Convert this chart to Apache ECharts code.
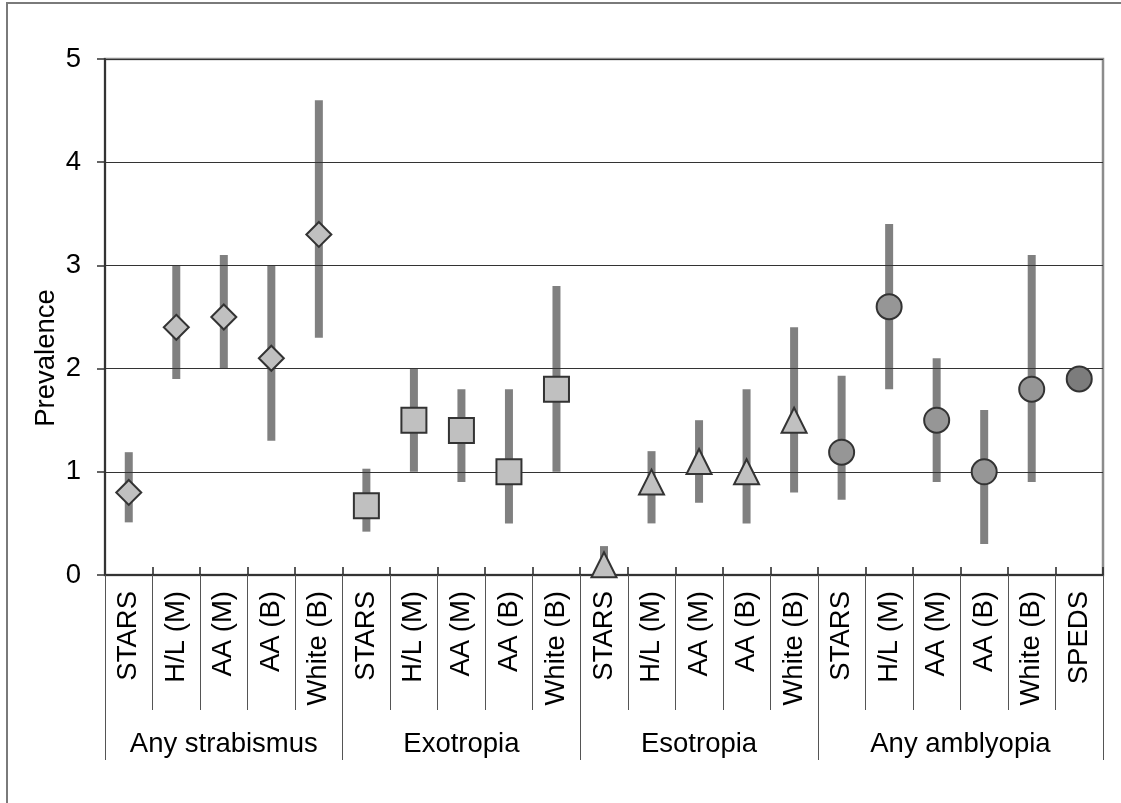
<!DOCTYPE html>
<html>
<head>
<meta charset="utf-8">
<title>Prevalence by subgroup</title>
<script src="https://cdn.jsdelivr.net/npm/echarts@6/dist/echarts.min.js"></script>
<style>
  html, body { margin: 0; padding: 0; background: #fff; }
  #chart { width: 1121px; height: 803px; }
</style>
</head>
<body>
<div id="chart"></div>
<script>
// Category labels along the x axis (21 study subgroups)
const categories = [
  'STARS', 'H/L (M)', 'AA (M)', 'AA (B)', 'White (B)',
  'STARS', 'H/L (M)', 'AA (M)', 'AA (B)', 'White (B)',
  'STARS', 'H/L (M)', 'AA (M)', 'AA (B)', 'White (B)',
  'STARS', 'H/L (M)', 'AA (M)', 'AA (B)', 'White (B)', 'SPEDS'
];
const groupNames = ['Any strabismus', 'Exotropia', 'Esotropia', 'Any amblyopia'];
const groupSizes = [5, 5, 5, 6];
const yTicks = [0, 1, 2, 3, 4, 5];

// Prevalence (%) with lower / upper confidence limits
const strabismusPrev = [0.8, 2.4, 2.5, 2.1, 3.3];
const strabismusLow  = [0.51, 1.9, 2.0, 1.3, 2.3];
const strabismusHigh = [1.19, 3.0, 3.1, 3.0, 4.6];

const exotropiaPrev = [0.67, 1.5, 1.4, 1.0, 1.8];
const exotropiaLow  = [0.42, 1.0, 0.9, 0.5, 1.0];
const exotropiaHigh = [1.03, 2.0, 1.8, 1.8, 2.8];

const esotropiaPrev = [0.1, 0.9, 1.1, 1.0, 1.5];
const esotropiaLow  = [0.0, 0.5, 0.7, 0.5, 0.8];
const esotropiaHigh = [0.28, 1.2, 1.5, 1.8, 2.4];

const amblyopiaPrev = [1.19, 2.6, 1.5, 1.0, 1.8, 1.9];
const amblyopiaLow  = [0.73, 1.8, 0.9, 0.3, 0.9, null];
const amblyopiaHigh = [1.93, 3.4, 2.1, 1.6, 3.1, null];

const FONT = '"Liberation Sans", Arial, sans-serif';
const FS = 27.5;

const groups = [
  { prev: strabismusPrev, low: strabismusLow, high: strabismusHigh, symbol: 'diamond', fill: '#c0c0c0' },
  { prev: exotropiaPrev, low: exotropiaLow, high: exotropiaHigh, symbol: 'rect', fill: '#c0c0c0' },
  { prev: esotropiaPrev, low: esotropiaLow, high: esotropiaHigh, symbol: 'triangle', fill: '#c0c0c0' },
  { prev: amblyopiaPrev, low: amblyopiaLow, high: amblyopiaHigh, symbol: 'circle', fill: '#969696' }
];

// Starting category index of each group and the midpoint used for group labels
const groupStarts = [];
const groupMids = [];
let acc = 0;
groupSizes.forEach(function (n) {
  groupStarts.push(acc);
  groupMids.push(acc + n / 2);
  acc += n;
});

// Error bar data: [categoryIndex, low, high]
const ciData = [];
groups.forEach(function (g, gi) {
  g.low.forEach(function (lo, k) {
    if (lo != null && g.high[k] != null) ciData.push([groupStarts[gi] + k, lo, g.high[k]]);
  });
});

const pointSeries = groups.map(function (g, gi) {
  return {
    type: 'scatter',
    xAxisIndex: 0,
    yAxisIndex: 0,
    symbol: g.symbol,
    symbolSize: 25,
    z: 5,
    itemStyle: { color: g.fill, borderColor: '#333', borderWidth: 2, opacity: 1 },
    data: g.prev.map(function (v, k) {
      const idx = groupStarts[gi] + k;
      const item = { value: [idx, v] };
      if (categories[idx] === 'SPEDS') item.itemStyle = { color: '#7c7c7c' };
      return item;
    }),
    emphasis: { disabled: true }
  };
});

const chart = echarts.init(document.getElementById('chart'), null, { renderer: 'canvas' });

chart.setOption({
  animation: false,
  backgroundColor: '#fff',
  textStyle: { fontFamily: FONT },
  graphic: [{
    type: 'rect',
    shape: { x: 7, y: 3, width: 1300, height: 1000 },
    style: { fill: 'none', stroke: '#7a7a7a', lineWidth: 2 },
    silent: true,
    z: -10
  }],
  grid: {
    left: 105, right: 18, top: 59, bottom: 228,
    show: true,
    borderColor: '#8c8c8c',
    borderWidth: 2.5,
    backgroundColor: 'transparent'
  },
  xAxis: [
    {
      // subgroup labels and the thin separators between them
      type: 'category',
      data: categories,
      boundaryGap: true,
      position: 'bottom',
      axisLine: { show: true, lineStyle: { color: '#333', width: 2 } },
      axisTick: { show: true, interval: 0, length: 135, lineStyle: { color: '#555', width: 1 } },
      axisLabel: {
        interval: 0, rotate: 90, margin: 16,
        fontSize: FS, color: '#000', fontFamily: FONT
      },
      splitLine: { show: false },
      z: 3
    },
    {
      // longer separators between the four diagnosis groups
      type: 'category',
      data: categories,
      boundaryGap: true,
      position: 'bottom',
      axisLine: { show: false },
      axisTick: {
        show: true,
        interval: function (index) { return groupStarts.indexOf(index) >= 0; },
        length: 185,
        lineStyle: { color: '#555', width: 1 }
      },
      axisLabel: { show: false },
      splitLine: { show: false }
    },
    {
      // short tick marks crossing above the axis line
      type: 'category',
      data: categories,
      boundaryGap: true,
      position: 'bottom',
      axisLine: { show: false },
      axisTick: { show: true, inside: true, interval: 0, length: 8, lineStyle: { color: '#222', width: 1.5 } },
      axisLabel: { show: false },
      splitLine: { show: false }
    },
    {
      // group names centred under each group
      type: 'value',
      min: 0,
      max: categories.length,
      interval: 0.5,
      position: 'bottom',
      axisLine: { show: false },
      axisTick: { show: false },
      splitLine: { show: false },
      axisLabel: {
        margin: 155,
        fontSize: FS, color: '#000', fontFamily: FONT,
        formatter: function (v) {
          const i = groupMids.indexOf(v);
          return i >= 0 ? groupNames[i] : '';
        }
      }
    }
  ],
  yAxis: {
    type: 'value',
    min: yTicks[0],
    max: yTicks[yTicks.length - 1],
    interval: 1,
    name: 'Prevalence',
    nameLocation: 'middle',
    nameGap: 45,
    nameMoveOverlap: false,
    nameRotate: 90,
    nameTextStyle: { fontSize: FS, color: '#000', fontFamily: FONT, padding: [0, 82, 0, 0] },
    axisLine: { show: true, lineStyle: { color: '#333', width: 2 } },
    axisTick: { show: true, length: 8, lineStyle: { color: '#333', width: 1.5 } },
    axisLabel: { margin: 24, fontSize: FS, color: '#000', fontFamily: FONT },
    splitLine: { show: true, lineStyle: { color: '#333', width: 1 } },
    z: 3
  },
  series: [
    {
      type: 'custom',
      xAxisIndex: 0,
      yAxisIndex: 0,
      z: 2,
      silent: true,
      data: ciData,
      encode: { x: 0, y: [1, 2] },
      renderItem: function (params, api) {
        const lo = api.coord([api.value(0), api.value(1)]);
        const hi = api.coord([api.value(0), api.value(2)]);
        const w = 8;
        return {
          type: 'rect',
          shape: { x: lo[0] - w / 2, y: hi[1], width: w, height: lo[1] - hi[1] },
          style: { fill: '#808080' }
        };
      }
    }
  ].concat(pointSeries)
});
</script>
</body>
</html>
